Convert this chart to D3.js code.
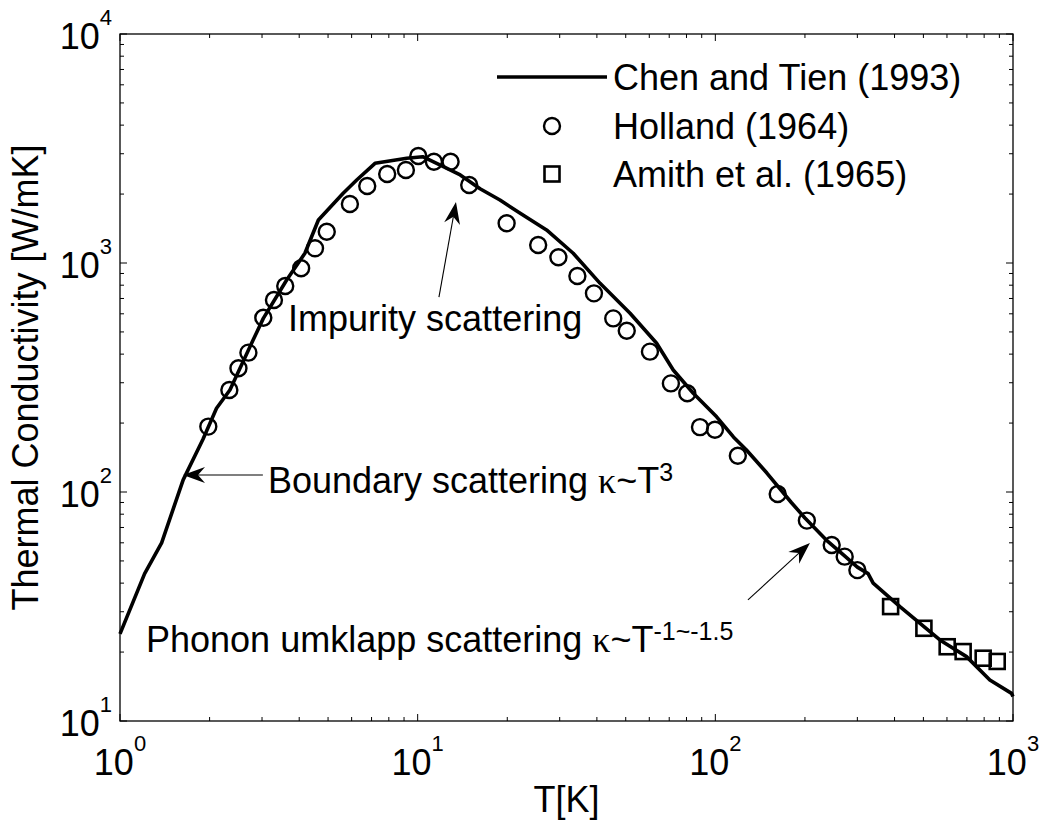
<!DOCTYPE html>
<html>
<head>
<meta charset="utf-8">
<script src="https://cdn.jsdelivr.net/npm/d3@7"></script>
<style>
  html, body { margin: 0; padding: 0; background: #fff; }
  svg { display: block; }
  text { font-family: "Liberation Sans", Arial, sans-serif; fill: #000; }
</style>
</head>
<body>
<svg id="chart" width="1042" height="824"></svg>
<script>
// ---------------- data ----------------
const chenT = [1, 1.21, 1.38, 1.63, 1.9, 2.11, 2.34, 2.8, 3.03, 3.63, 4.18, 4.64, 5.62, 6.24, 7.19, 9.19, 10.4, 12.2, 13.9, 16.2, 18.9, 22.1, 27.1, 33.3, 41.0, 51.7, 63.5, 72.2, 84.3, 101, 115, 127, 149, 180, 200, 236, 270, 300, 326, 339, 417, 568, 698, 836, 989, 1000];
const chenK = [24, 44, 60, 113, 170, 232, 279, 461, 573, 843, 1103, 1541, 2016, 2303, 2725, 2866, 2912, 2634, 2423, 2110, 1884, 1648, 1394, 1103, 815, 603, 446, 341, 270, 213, 174, 153, 121, 90, 77, 61.7, 53, 47, 44, 40, 31.6, 22.6, 19.1, 15.1, 13.2, 12.8];

const hollandT = [1.98, 2.33, 2.5, 2.7, 3.03, 3.29, 3.59, 4.06, 4.52, 4.95, 5.92, 6.77, 7.9, 9.13, 10.05, 11.34, 12.9, 14.9, 19.9, 25.4, 29.7, 34.4, 39.1, 45.4, 50.4, 60.3, 70.9, 80.5, 88.8, 99.7, 119, 162, 203, 246, 272, 300];
const hollandK = [193, 279, 347, 406, 577, 689, 793, 948, 1159, 1370, 1809, 2169, 2447, 2547, 2932, 2769, 2769, 2191, 1491, 1198, 1059, 877, 737, 573, 506, 410, 298, 270, 192, 187, 144, 98, 75, 58.7, 52.2, 45.6];

const amithT = [388, 502, 601, 680, 794, 885];
const amithK = [31.6, 25.4, 21.1, 20.1, 18.8, 18.2];

const xTickExps = [0, 1, 2, 3];
const yTickExps = [1, 2, 3, 4];

const legendLabels = ["Chen and Tien (1993)", "Holland (1964)", "Amith et al. (1965)"];
const xTitle = "T[K]";
const yTitle = "Thermal Conductivity [W/mK]";

// annotations: text anchor point (data coords) and arrow tail/tip (data coords)
const annoText = [
  { main: "Impurity scattering", kappa: "", sup: "", T: 3.67, K: 505 },
  { main: "Boundary scattering ", kappa: "κ", rest: "~T", sup: "3", T: 3.14, K: 99 },
  { main: "Phonon umklapp scattering ", kappa: "κ", rest: "~T", sup: "-1~-1.5", T: 1.223, K: 20.0 }
];
const annoArrows = [
  { T0: 11.79, K0: 710, T1: 13.45, K1: 1847 },
  { T0: 3.02, K0: 118.6, T1: 1.628, K1: 118.6 },
  { T0: 128.7, K0: 33.8, T1: 207.9, K1: 59.9 }
];

// ---------------- layout ----------------
const L = 120, R = 1013, Tp = 34, B = 721;
const svg = d3.select("#chart");
const x = d3.scaleLog().domain([1, 1000]).range([L, R]);
const y = d3.scaleLog().domain([10, 10000]).range([B, Tp]);

// ticks
const minorVals = (lo, hi) => {
  const out = [];
  for (let e = lo; e < hi; e++) for (let m = 2; m <= 9; m++) out.push(m * Math.pow(10, e));
  return out;
};
const xMinor = minorVals(0, 3), yMinor = minorVals(1, 4);
const xMajor = xTickExps.map(e => Math.pow(10, e));
const yMajor = yTickExps.map(e => Math.pow(10, e));
const MAJ = 7, MIN = 4;
const tg = svg.append("g").attr("stroke", "#000").attr("stroke-width", 1);
xMajor.concat(xMinor).forEach(v => {
  const len = xMajor.includes(v) ? MAJ : MIN;
  const px = x(v);
  tg.append("line").attr("x1", px).attr("x2", px).attr("y1", B).attr("y2", B - len);
  tg.append("line").attr("x1", px).attr("x2", px).attr("y1", Tp).attr("y2", Tp + len);
});
yMajor.concat(yMinor).forEach(v => {
  const len = yMajor.includes(v) ? MAJ : MIN;
  const py = y(v);
  tg.append("line").attr("y1", py).attr("y2", py).attr("x1", L).attr("x2", L + len);
  tg.append("line").attr("y1", py).attr("y2", py).attr("x1", R).attr("x2", R - len);
});

// data line
const line = d3.line().x((d, i) => x(chenT[i])).y((d, i) => y(chenK[i]));
svg.append("path").datum(chenT).attr("d", line)
  .attr("fill", "none").attr("stroke", "#000").attr("stroke-width", 3.6)
  .attr("stroke-linejoin", "round");

// markers
svg.append("g").selectAll("circle").data(hollandT).join("circle")
  .attr("cx", (d) => x(d)).attr("cy", (d, i) => y(hollandK[i])).attr("r", 8)
  .attr("fill", "none").attr("stroke", "#000").attr("stroke-width", 2.4);
const SQ = 15;
svg.append("g").selectAll("rect").data(amithT).join("rect")
  .attr("x", d => x(d) - SQ / 2).attr("y", (d, i) => y(amithK[i]) - SQ / 2)
  .attr("width", SQ).attr("height", SQ)
  .attr("fill", "none").attr("stroke", "#000").attr("stroke-width", 2.6);

// axes box
svg.append("rect").attr("x", L).attr("y", Tp).attr("width", R - L).attr("height", B - Tp)
  .attr("fill", "none").attr("stroke", "#000").attr("stroke-width", 1.3);

// tick labels
xTickExps.forEach(e => {
  const t = svg.append("text").attr("x", x(Math.pow(10, e))).attr("y", B + 54)
    .attr("text-anchor", "middle").attr("font-size", 36);
  t.append("tspan").text("10");
  t.append("tspan").attr("dy", -24).attr("font-size", 22).text(e);
});
yTickExps.forEach(e => {
  const t = svg.append("text").attr("x", 112).attr("y", y(Math.pow(10, e)) + 15)
    .attr("text-anchor", "end").attr("font-size", 36);
  t.append("tspan").text("10");
  t.append("tspan").attr("dy", -24).attr("font-size", 22).text(e);
});

// axis titles
svg.append("text").attr("x", (L + R) / 2).attr("y", 812).attr("text-anchor", "middle")
  .attr("font-size", 36).text(xTitle);
svg.append("text").attr("transform", `translate(38,${(Tp + B) / 2}) rotate(-90)`)
  .attr("text-anchor", "middle").attr("font-size", 36).text(yTitle);

// legend
const legX0 = 497, legX1 = 607, legTx = 613, legY = [77, 126, 174];
svg.append("line").attr("x1", legX0).attr("x2", legX1).attr("y1", legY[0]).attr("y2", legY[0])
  .attr("stroke", "#000").attr("stroke-width", 3.6);
svg.append("circle").attr("cx", (legX0 + legX1) / 2).attr("cy", legY[1]).attr("r", 8)
  .attr("fill", "none").attr("stroke", "#000").attr("stroke-width", 2.4);
svg.append("rect").attr("x", (legX0 + legX1) / 2 - SQ / 2).attr("y", legY[2] - SQ / 2)
  .attr("width", SQ).attr("height", SQ)
  .attr("fill", "none").attr("stroke", "#000").attr("stroke-width", 2.6);
legendLabels.forEach((s, i) => {
  svg.append("text").attr("x", legTx).attr("y", legY[i] + 13).attr("font-size", 36).text(s);
});

// annotation texts
annoText.forEach(a => {
  const t = svg.append("text").attr("x", x(a.T)).attr("y", y(a.K)).attr("font-size", 36);
  t.append("tspan").text(a.main);
  if (a.kappa) {
    t.append("tspan").attr("font-family", "'Liberation Serif', 'Times New Roman', serif").text(a.kappa);
    t.append("tspan").text(a.rest);
    t.append("tspan").attr("dy", -12).attr("font-size", 25).text(a.sup);
  }
});

// annotation arrows
annoArrows.forEach(a => {
  const x0 = x(a.T0), y0 = y(a.K0), x1 = x(a.T1), y1 = y(a.K1);
  const ang = Math.atan2(y1 - y0, x1 - x0);
  const len = 22, hw = 8, notch = 7;
  const ca = Math.cos(ang), sa = Math.sin(ang);
  const bx = x1 - len * ca, by = y1 - len * sa;
  const nx = x1 - (len - notch) * ca, ny = y1 - (len - notch) * sa;
  svg.append("line").attr("x1", x0).attr("y1", y0).attr("x2", nx).attr("y2", ny)
    .attr("stroke", "#000").attr("stroke-width", 1.1);
  const pts = [[x1, y1], [bx - hw * sa, by + hw * ca], [nx, ny], [bx + hw * sa, by - hw * ca]];
  svg.append("path").attr("d", "M" + pts.map(p => p.join(",")).join("L") + "Z").attr("fill", "#000");
});
</script>
</body>
</html>
